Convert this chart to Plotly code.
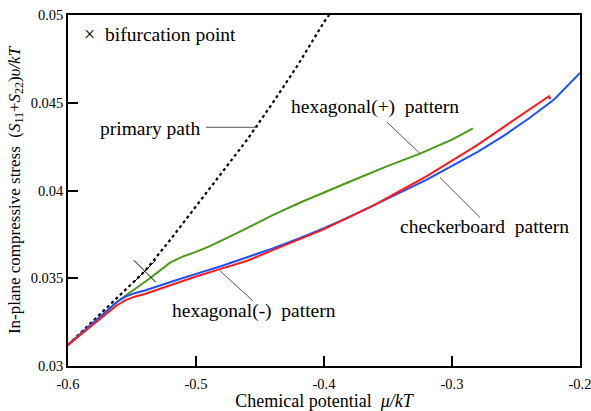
import plotly.graph_objects as go

# ---- data ----
primary_mu = [-0.6, -0.58, -0.56, -0.54, -0.52, -0.50, -0.48, -0.46, -0.44, -0.42, -0.40, -0.396]
primary_s = [0.0312, 0.0326, 0.0340, 0.0354, 0.0372, 0.0391, 0.0410, 0.0429, 0.0450, 0.0472, 0.0496, 0.0500]

hexp_mu = [-0.6, -0.56, -0.536, -0.52, -0.51, -0.50, -0.49, -0.47, -0.44, -0.419, -0.38, -0.35, -0.325, -0.30, -0.2836]
hexp_s = [0.0312, 0.03375, 0.0350, 0.0359, 0.03625, 0.0365, 0.0368, 0.0375, 0.0386, 0.0393, 0.0405, 0.0414, 0.0421, 0.0429, 0.04354]

check_mu = [-0.6, -0.58, -0.57, -0.562, -0.555, -0.548, -0.54, -0.53, -0.515, -0.50, -0.48, -0.46, -0.44, -0.42, -0.40, -0.38, -0.36, -0.34, -0.32, -0.30, -0.28, -0.26, -0.24, -0.22, -0.2]
check_s = [0.0312, 0.0325, 0.03315, 0.03365, 0.03395, 0.03415, 0.0343, 0.03455, 0.0349, 0.03525, 0.0357, 0.0362, 0.0367, 0.03725, 0.03785, 0.0385, 0.0392, 0.0399, 0.0406, 0.0414, 0.0422, 0.0431, 0.0441, 0.0452, 0.0467]

hexm_mu = [-0.6, -0.58, -0.57, -0.562, -0.555, -0.548, -0.54, -0.53, -0.515, -0.50, -0.48, -0.46, -0.44, -0.42, -0.40, -0.38, -0.36, -0.34, -0.32, -0.30, -0.28, -0.26, -0.24, -0.2242, -0.2232]
hexm_s = [0.0312, 0.0324, 0.0330, 0.03345, 0.03375, 0.03395, 0.0341, 0.03435, 0.0347, 0.0351, 0.03555, 0.0360, 0.0366, 0.0372, 0.0378, 0.0385, 0.0392, 0.04, 0.0408, 0.0417, 0.0426, 0.0436, 0.0446, 0.04537, 0.0452]

bif_mu = [-0.54]
bif_s = [0.0354]

x_ticks = [-0.6, -0.5, -0.4, -0.3, -0.2]
x_ticktext = ["-0.6", "-0.5", "-0.4", "-0.3", "-0.2"]
y_ticks = [0.03, 0.035, 0.04, 0.045, 0.05]
y_ticktext = ["0.03", "0.035", "0.04", "0.045", "0.05"]

FONT = "Liberation Serif"

fig = go.Figure()
fig.add_trace(go.Scatter(x=primary_mu, y=primary_s, mode="lines", line=dict(color="black", width=2.2, dash="dot"), name="primary path"))
fig.add_trace(go.Scatter(x=hexp_mu, y=hexp_s, mode="lines", line=dict(color="#4A9A14", width=2), name="hexagonal(+)"))
fig.add_trace(go.Scatter(x=check_mu, y=check_s, mode="lines", line=dict(color="#1E4FFF", width=2), name="checkerboard"))
fig.add_trace(go.Scatter(x=hexm_mu, y=hexm_s, mode="lines", line=dict(color="#FF1A1A", width=2), name="hexagonal(-)"))
fig.add_trace(go.Scatter(x=bif_mu, y=bif_s, mode="markers", marker=dict(symbol="x-thin", size=22, line=dict(color="black", width=1)), name="bifurcation"))

# leader lines
leaders = [
    (-0.4922, 0.0436, -0.4516, 0.0436),
    (-0.3508, 0.04389, -0.325, 0.04211),
    (-0.3094, 0.04074, -0.2781, 0.03846),
    (-0.4813, 0.03543, -0.4555, 0.03371),
]
for x0, y0, x1, y1 in leaders:
    fig.add_shape(type="line", xref="x", yref="y", x0=x0, y0=y0, x1=x1, y1=y1,
                  line=dict(color="#555555", width=1))

labels = [
    ("primary path", -0.5359, 0.04354),
    ("hexagonal(+)  pattern", -0.3602, 0.04474),
    ("checkerboard  pattern", -0.2750, 0.03794),
    ("hexagonal(-)  pattern", -0.4547, 0.03314),
    ("<span style='font-size:20px'>×</span>  bifurcation point", -0.5281, 0.0489),
]
for t, x, y in labels:
    fig.add_annotation(x=x, y=y, xref="x", yref="y", text=t, showarrow=False,
                       font=dict(family=FONT, size=19.5, color="black"))

fig.update_layout(
    width=591, height=411,
    margin=dict(l=68, r=11, t=15, b=45),
    plot_bgcolor="white", paper_bgcolor="white",
    showlegend=False,
    font=dict(family=FONT, color="black"),
)
fig.update_xaxes(range=[-0.6, -0.2], tickvals=x_ticks, ticktext=x_ticktext,
                 ticks="inside", ticklen=10, tickwidth=1.5, tickcolor="black",
                 showline=True, linecolor="black", linewidth=1.5, mirror=True,
                 showgrid=False, zeroline=False, ticklabelstandoff=4, automargin=False,
                 ticklabeloverflow="allow",
                 tickfont=dict(family=FONT, size=14.5),
                 title=dict(text="Chemical potential  <i>μ/kT</i>", font=dict(family=FONT, size=18), standoff=7))
fig.update_yaxes(range=[0.03, 0.05], tickvals=y_ticks, ticktext=y_ticktext,
                 ticks="inside", ticklen=10, tickwidth=1.5, tickcolor="black",
                 showline=True, linecolor="black", linewidth=1.5, mirror=True,
                 showgrid=False, zeroline=False, automargin=False,
                 ticklabeloverflow="allow",
                 tickfont=dict(family=FONT, size=14.5),
                 title=dict(text="In-plane compressive stress  (<i>S</i><sub>11</sub>+<i>S</i><sub>22</sub>)<i>υ/kT</i>",
                            font=dict(family=FONT, size=17), standoff=6))

fig.write_html("out.html")
